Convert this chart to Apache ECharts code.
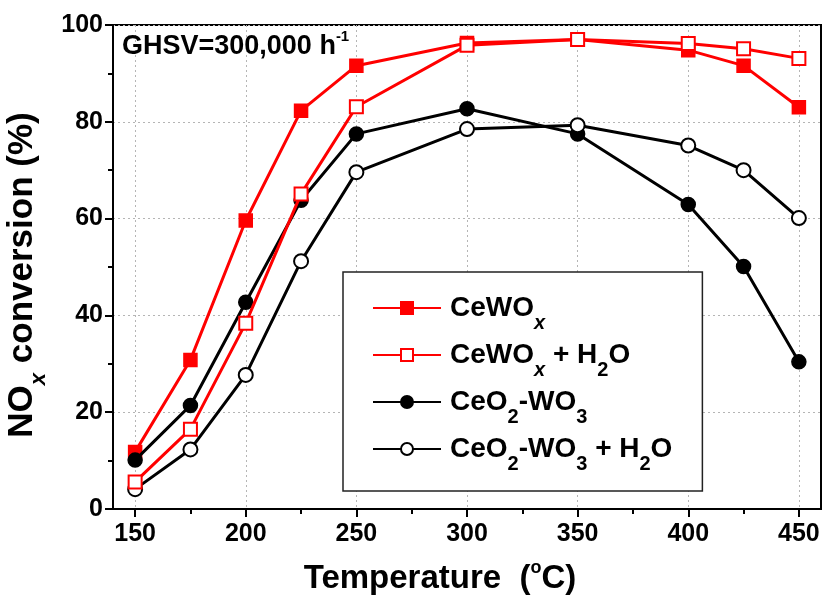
<!DOCTYPE html>
<html>
<head>
<meta charset="utf-8">
<script src="https://cdn.jsdelivr.net/npm/echarts@6/dist/echarts.min.js"></script>
<style>
html,body{margin:0;padding:0;background:#fff;}
#chart{width:822px;height:595px;}
</style>
</head>
<body>
<div id="chart"></div>
<script>
// ---- data ----
const temperatures = [150, 175, 200, 225, 250, 300, 350, 400, 425, 450];
const seriesNames = ['CeWOx', 'CeWOx + H2O', 'CeO2-WO3', 'CeO2-WO3 + H2O'];
const cewox        = [11.8, 30.8, 59.6, 82.3, 91.6, 96.3, 97.0, 94.8, 91.6, 83.0];
const cewoxH2O     = [5.6, 16.5, 38.4, 65.1, 83.1, 95.8, 97.0, 96.2, 95.1, 93.1];
const ceo2wo3      = [10.1, 21.4, 42.7, 63.8, 77.5, 82.7, 77.5, 62.9, 50.1, 30.4];
const ceo2wo3H2O   = [4.1, 12.3, 27.7, 51.2, 69.6, 78.5, 79.3, 75.1, 70.0, 60.1];
const xMajorTicks  = [150, 200, 250, 300, 350, 400, 450];
const xMinorTicks  = [175, 225, 275, 325, 375, 425];

const FONT = '"Liberation Sans", Arial, sans-serif';
const RED = '#ff0000';
const BLACK = '#000000';

function pairs(vals) { return temperatures.map((t, i) => [t, vals[i]]); }

const legendRich = {
  b:   { fontFamily: FONT, fontWeight: 'bold', fontSize: 28, lineHeight: 32, color: '#000' },
  bi:  { fontFamily: FONT, fontWeight: 'bold', fontStyle: 'italic', fontSize: 20, lineHeight: 20, padding: [30, 0, 0, 0], color: '#000' },
  s:   { fontFamily: FONT, fontWeight: 'bold', fontSize: 20, lineHeight: 20, padding: [30, 0, 0, 0], color: '#000' },
  g:   { fontFamily: FONT, fontSize: 28, lineHeight: 32, width: 4 }
};
const legendLabels = {
  'CeWOx': '{g|}{b|CeWO}{bi|x}',
  'CeWOx + H2O': '{g|}{b|CeWO}{bi|x}{b| + H}{s|2}{b|O}',
  'CeO2-WO3': '{g|}{b|CeO}{s|2}{b|-WO}{s|3}',
  'CeO2-WO3 + H2O': '{g|}{b|CeO}{s|2}{b|-WO}{s|3}{b| + H}{s|2}{b|O}'
};

function makeSeries(name, vals, color, symbol, size, z) {
  return {
    name: name,
    type: 'line',
    data: pairs(vals),
    symbol: symbol,
    symbolSize: size,
    showAllSymbol: true,
    z: z,
    lineStyle: { color: color, width: 3 },
    itemStyle: { color: color, borderColor: color, borderWidth: 1.5 },
    emphasis: { disabled: true },
    animation: false
  };
}

const chart = echarts.init(document.getElementById('chart'), null, { renderer: 'canvas' });
chart.setOption({
  backgroundColor: '#ffffff',
  animation: false,
  title: {
    text: '{b|GHSV=300,000 h}{sup|-1}',
    left: 122,
    top: 32,
    padding: 0,
    textStyle: {
      rich: {
        b:   { fontFamily: FONT, fontWeight: 'bold', fontSize: 27, lineHeight: 30, color: '#000' },
        sup: { fontFamily: FONT, fontWeight: 'bold', fontSize: 15, lineHeight: 15, padding: [0, 0, 20, 0], color: '#000' }
      }
    }
  },
  grid: {
    left: 113, right: 1, top: 25, bottom: 86,
    outerBoundsMode: 'none',
    containLabel: false,
    show: true, borderColor: '#000', borderWidth: 2, backgroundColor: 'transparent'
  },
  legend: {
    orient: 'vertical',
    left: 343,
    top: 272,
    data: seriesNames,
    itemWidth: 68,
    itemHeight: 15,
    itemGap: -3,
    padding: [11, 30, 17, 29],
    borderColor: '#222',
    borderWidth: 1.5,
    backgroundColor: '#fff',
    formatter: function (name) { return legendLabels[name]; },
    textStyle: { rich: legendRich },
    selectedMode: false
  },
  xAxis: [{
    type: 'value',
    min: 140,
    max: 460,
    name: '{b|Temperature  (}{sup|o}{b|C)}',
    nameLocation: 'middle',
    nameGap: 52,
    nameTextStyle: {
      padding: [0, 54, 0, 0],
      rich: {
        b:   { fontFamily: FONT, fontWeight: 'bold', fontSize: 33, lineHeight: 36, color: '#000' },
        sup: { fontFamily: FONT, fontWeight: 'bold', fontSize: 18, lineHeight: 18, padding: [0, 0, 22, 0], color: '#000' }
      }
    },
    axisLine: { show: true, onZero: false, lineStyle: { color: '#000', width: 2 } },
    axisTick: { show: true, inside: false, length: 8, customValues: xMajorTicks, lineStyle: { color: '#000', width: 2 } },
    axisLabel: { customValues: xMajorTicks, fontFamily: FONT, fontWeight: 'bold', fontSize: 25, color: '#000', margin: 13 },
    splitLine: { show: true, lineStyle: { color: '#b5b5b5', width: 1, type: [2, 3] } }
  }, {
    type: 'value',
    min: 140,
    max: 460,
    position: 'bottom',
    axisLine: { show: false },
    axisTick: { show: true, inside: false, length: 5, customValues: xMinorTicks, lineStyle: { color: '#000', width: 2 } },
    axisLabel: { show: false },
    splitLine: { show: false }
  }],
  yAxis: {
    type: 'value',
    min: 0,
    max: 100,
    interval: 20,
    name: '{b|NO}{s|x}{b| conversion (%)}',
    nameLocation: 'middle',
    nameGap: 54,
    nameTextStyle: {
      padding: [0, 16, 0, 0],
      rich: {
        b: { fontFamily: FONT, fontWeight: 'bold', fontSize: 35, lineHeight: 38, color: '#000' },
        s: { fontFamily: FONT, fontWeight: 'bold', fontStyle: 'italic', fontSize: 22, lineHeight: 22, padding: [34, 0, 0, 0], color: '#000' }
      }
    },
    axisLine: { show: true, lineStyle: { color: '#000', width: 2 } },
    axisTick: { show: true, inside: false, length: 8, lineStyle: { color: '#000', width: 2 } },
    minorTick: { show: true, splitNumber: 2, length: 5, lineStyle: { color: '#000', width: 2 } },
    axisLabel: { fontFamily: FONT, fontWeight: 'bold', fontSize: 25, color: '#000', margin: 10 },
    splitLine: { show: true, lineStyle: { color: '#b5b5b5', width: 1, type: [2, 3] } }
  },
  series: [
    makeSeries(seriesNames[0], cewox, RED, 'rect', 13, 3),
    makeSeries(seriesNames[1], cewoxH2O, RED, 'emptyRect', 13, 6),
    makeSeries(seriesNames[2], ceo2wo3, BLACK, 'circle', 14, 4),
    makeSeries(seriesNames[3], ceo2wo3H2O, BLACK, 'emptyCircle', 14, 5)
  ]
});
</script>
</body>
</html>
